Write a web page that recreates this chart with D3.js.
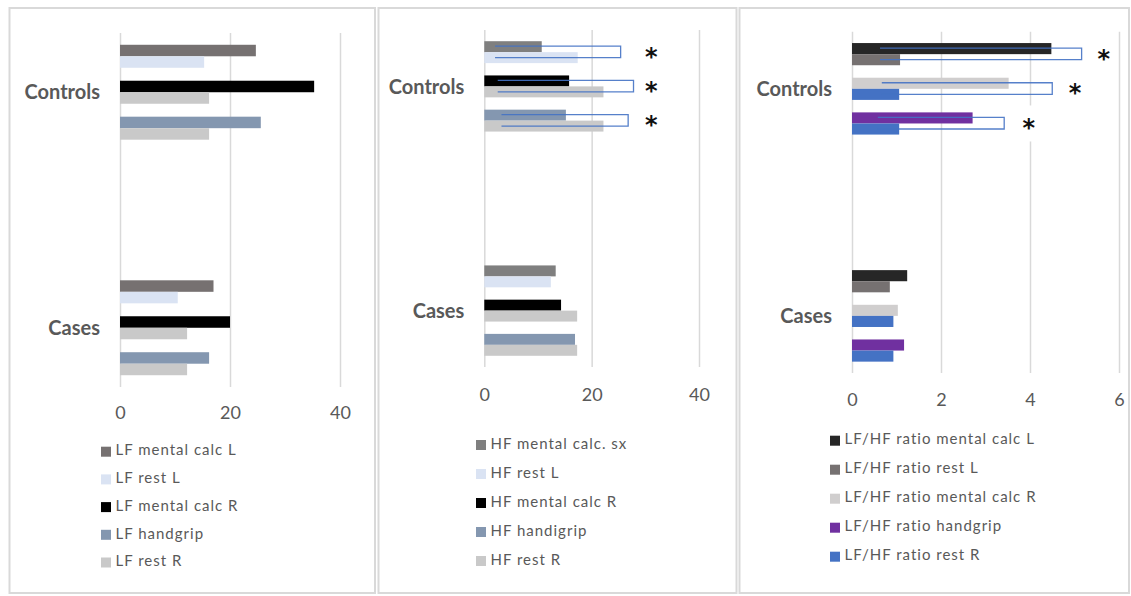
<!DOCTYPE html>
<html><head><meta charset="utf-8">
<script src="https://cdn.jsdelivr.net/npm/d3@7"></script>
<style>
html,body{margin:0;padding:0;background:#fff;}
svg{display:block;font-family:Lato,"Open Sans",sans-serif;}
</style></head>
<body><svg id="chart" width="1131" height="596"></svg>
<script>
// ---------- data ----------
const categories = ["Controls", "Cases"];
// each category shows three pairs (stimulus bar, rest bar), as indices into the series
const pairs = [[0, 1], [2, 4], [3, 4]];

const lfLabels = ["LF mental calc L", "LF rest L", "LF mental calc R", "LF handgrip", "LF rest R"];
const lfControls = [24.7, 15.3, 35.3, 25.6, 16.2];
const lfCases = [17.0, 10.5, 20.0, 16.2, 12.2];
const lfTicks = [0, 20, 40];

const hfLabels = ["HF mental calc. sx", "HF rest L", "HF mental calc R", "HF handigrip", "HF rest R"];
const hfControls = [10.7, 17.4, 15.8, 15.2, 22.2];
const hfCases = [13.3, 12.4, 14.3, 16.9, 17.3];
const hfTicks = [0, 20, 40];
const hfBracketStart = [2.0, 2.5, 3.2];
const hfBracketEnd = [25.4, 27.8, 26.8];
const hfStarAt = [31.1, 31.1, 31.1];

const ratioLabels = ["LF/HF ratio mental calc L", "LF/HF ratio rest L", "LF/HF ratio mental calc R", "LF/HF ratio handgrip", "LF/HF ratio rest R"];
const ratioControls = [4.48, 1.08, 3.52, 2.71, 1.06];
const ratioCases = [1.24, 0.85, 1.03, 1.17, 0.93];
const ratioTicks = [0, 2, 4, 6];
const ratioBracketStart = [0.63, 0.67, 0.58];
const ratioBracketEnd = [5.16, 4.5, 3.42];
const ratioStarAt = [5.66, 5.01, 3.97];

// ---------- styles ----------
const lfColors = ["#767171", "#dae3f3", "#000000", "#8497b0", "#c9c9c9"];
const hfColors = ["#7f7f7f", "#dae3f3", "#000000", "#8497b0", "#c9c9c9"];
const ratioColors = ["#262626", "#767171", "#d0cece", "#7030a0", "#4472c4"];

const panels = [
  {box: [9.5, 8, 375, 593], xr: [120, 340], domain: [0, 40], yr: [33, 387], tickPad: 19.5,
   labels: lfLabels, values: [lfControls, lfCases], ticks: lfTicks, colors: lfColors,
   legX: 101, legY: 451.7, legStep: 27.7},
  {box: [378.5, 8, 736.5, 593], xr: [484.3, 699], domain: [0, 40], yr: [30, 367], tickPad: 21.5,
   labels: hfLabels, values: [hfControls, hfCases], ticks: hfTicks, colors: hfColors,
   legX: 476, legY: 445, legStep: 29,
   sig: {start: hfBracketStart, end: hfBracketEnd, star: hfStarAt}},
  {box: [739.5, 8, 1129, 593], xr: [852, 1119], domain: [0, 6], yr: [31.7, 373], tickPad: 20.5,
   labels: ratioLabels, values: [ratioControls, ratioCases], ticks: ratioTicks, colors: ratioColors,
   legX: 830, legY: 440.7, legStep: 29,
   sig: {start: ratioBracketStart, end: ratioBracketEnd, star: ratioStarAt}}
];

const svg = d3.select("#chart");
const textColor = "#595959";

panels.forEach(p => {
  const g = svg.append("g");
  g.append("rect")
    .attr("x", p.box[0]).attr("y", p.box[1])
    .attr("width", p.box[2] - p.box[0]).attr("height", p.box[3] - p.box[1])
    .attr("fill", "#fff").attr("stroke", "#d9d9d9").attr("stroke-width", 2);

  const x = d3.scaleLinear().domain(p.domain).range(p.xr);
  const y = d3.scaleBand().domain(categories).range(p.yr).paddingInner(0.597).paddingOuter(0.05);
  const yPair = d3.scaleBand().domain(d3.range(pairs.length)).range([0, y.bandwidth()]).paddingInner(0.36).paddingOuter(0);
  const yBar = d3.scaleBand().domain([0, 1]).range([0, yPair.bandwidth()]);

  // gridlines + tick labels
  const axis = d3.axisBottom(x).tickValues(p.ticks).tickFormat(d3.format("d"))
    .tickSize(-(p.yr[1] - p.yr[0])).tickPadding(p.tickPad);
  const ag = g.append("g").attr("transform", `translate(0,${p.yr[1]})`).call(axis);
  ag.select(".domain").remove();
  ag.selectAll(".tick line").attr("stroke", "#d9d9d9").attr("stroke-width", 1.5);
  ag.selectAll(".tick text").attr("fill", textColor).attr("font-size", 18).attr("font-family", "Lato, sans-serif");

  // bars
  categories.forEach((cat, ci) => {
    const vals = p.values[ci];
    pairs.forEach((pr, pi) => {
      pr.forEach((si, bi) => {
        g.append("rect")
          .attr("x", x(0))
          .attr("y", y(cat) + yPair(pi) + yBar(bi))
          .attr("width", x(vals[si]) - x(0))
          .attr("height", yBar.bandwidth())
          .attr("fill", p.colors[si]);
      });
    });
    g.append("text")
      .attr("x", x(0) - 20)
      .attr("y", y(cat) + y.bandwidth() / 2)
      .attr("dy", "0.1em")
      .attr("text-anchor", "end")
      .attr("dominant-baseline", "middle")
      .attr("font-weight", "bold")
      .attr("font-size", 20)
      .attr("fill", textColor)
      .text(cat);
  });

  // significance brackets and stars (Controls only)
  if (p.sig) {
    const cat = categories[0];
    pairs.forEach((pr, pi) => {
      const yTop = y(cat) + yPair(pi) + yBar(0) + yBar.bandwidth() / 2;
      const yBot = y(cat) + yPair(pi) + yBar(1) + yBar.bandwidth() / 2;
      const x0 = x(p.sig.start[pi]), x1 = x(p.sig.end[pi]);
      g.append("path")
        .attr("d", `M${x0},${yTop - 0.5}H${x1}V${yBot}H${x0}`)
        .attr("fill", "none").attr("stroke", "#4472c4").attr("stroke-width", 1.3).attr("stroke-opacity", 0.9);
      const cy = y(cat) + yPair(pi) + yPair.bandwidth() / 2;
      g.append("rect")
        .attr("x", x(p.sig.star[pi]) - 12).attr("y", cy - 18)
        .attr("width", 24).attr("height", 36).attr("fill", "#fff");
      g.append("text")
        .attr("x", x(p.sig.star[pi]))
        .attr("y", cy + 12.5)
        .attr("text-anchor", "middle")
        .attr("font-family", "'DejaVu Sans', sans-serif")
        .attr("font-weight", "bold")
        .attr("font-size", 24)
        .attr("fill", "#111")
        .text("*");
    });
  }

  // legend
  p.labels.forEach((lab, i) => {
    const ly = p.legY + i * p.legStep;
    g.append("rect").attr("x", p.legX).attr("y", ly - 5).attr("width", 10).attr("height", 10).attr("fill", p.colors[i]);
    g.append("text")
      .attr("x", p.legX + 14.5).attr("y", ly)
      .attr("dominant-baseline", "middle")
      .attr("font-size", 15)
      .attr("letter-spacing", 1.0)
      .attr("fill", textColor)
      .text(lab);
  });
});
</script></body></html>
